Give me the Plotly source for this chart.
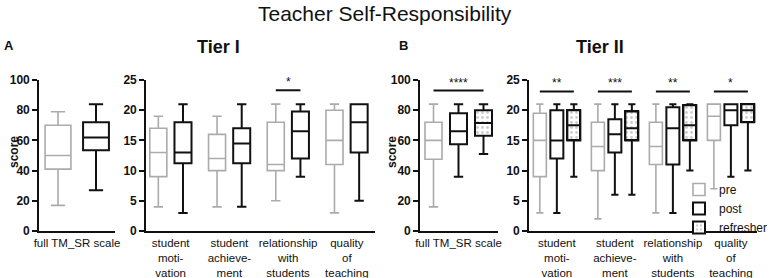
import plotly.graph_objects as go

# ---------------- data ----------------
# Tier I full scale (pre, post)
t1_full_groups = ["pre", "post"]
t1_full_low = [17, 27]
t1_full_q1 = [41, 53.5]
t1_full_med = [50, 62]
t1_full_q3 = [70, 72]
t1_full_high = [79, 84]

# Tier I subscales
subscales = ["student<br>moti-<br>vation", "student<br>achieve-<br>ment",
             "relationship<br>with<br>students", "quality<br>of<br>teaching"]
t1_pre_low = [4, 4, 5, 3]
t1_pre_q1 = [9, 10, 10, 11]
t1_pre_med = [13, 12, 11, 15]
t1_pre_q3 = [17, 16, 18, 20]
t1_pre_high = [19, 19, 21, 21]
t1_post_low = [3, 4, 9, 5]
t1_post_q1 = [11.2, 11.2, 12, 13]
t1_post_med = [13, 14.5, 16.5, 18]
t1_post_q3 = [18, 17, 19.8, 21]
t1_post_high = [21, 21, 21, 21]
t1_sig = ["", "", "*", ""]
t1_sig_y = 23.3

# Tier II full scale (pre, post, refresher)
t2_full_low = [16, 36, 51]
t2_full_q1 = [47.5, 57.5, 63]
t2_full_med = [60, 66, 71.5]
t2_full_q3 = [72, 78, 80]
t2_full_high = [84, 84, 84]
t2_full_sig = "****"
t2_full_sig_y = 93

# Tier II subscales
t2_pre_low = [3, 2, 3, 7]
t2_pre_q1 = [9, 10, 11, 15]
t2_pre_med = [15, 14, 14, 19]
t2_pre_q3 = [19.5, 18, 18, 21]
t2_pre_high = [21, 21, 21, 21]
t2_post_low = [3, 6, 3, 9]
t2_post_q1 = [12, 13, 11, 17.5]
t2_post_med = [15, 16, 17, 20]
t2_post_q3 = [20, 18.5, 20.5, 21]
t2_post_high = [21, 21, 21, 21]
t2_ref_low = [9, 6, 10, 10]
t2_ref_q1 = [15, 15, 15, 18]
t2_ref_med = [17.5, 17, 17.5, 20]
t2_ref_q3 = [20, 19.8, 20.8, 21]
t2_ref_high = [21, 21, 21, 21]
t2_sig = ["**", "***", "**", "*"]
t2_sig_y = 23.1

# ---------------- layout helpers ----------------
W, H = 770, 278


def px(X):
    return X / W


def py(Y):
    return 1 - Y / H


GRAY = "#ababab"
BLACK = "#111111"
FONT = "Liberation Sans, Arial, sans-serif"
pattern = dict(shape=".", fgcolor="#9a9a9a", bgcolor="white", size=5, solidity=0.25)

fig = go.Figure()


def add_box(x, low, q1, med, q3, high, color, lw, width, xa, ya, name, show, rank):
    fig.add_trace(go.Box(
        x=x, lowerfence=low, q1=q1, median=med, q3=q3, upperfence=high,
        width=width, line=dict(color=color, width=lw), fillcolor="rgba(0,0,0,0)",
        whiskerwidth=0.55, boxpoints=False, name=name, showlegend=show,
        legendrank=rank, xaxis=xa, yaxis=ya, hoverinfo="skip"))


def add_pattern(x, q1, q3, width, xa, ya, show):
    fig.add_trace(go.Bar(
        x=x, y=[b - a for a, b in zip(q1, q3)], base=q1, width=width,
        marker=dict(color="white", pattern=pattern,
                    line=dict(color=BLACK, width=2 if show else 0)),
        name="refresher", showlegend=show, legendrank=3,
        xaxis=xa, yaxis=ya, hoverinfo="skip"))


n = len(subscales)
# positions derived from category index
p2_pre = [i - 0.21 for i in range(n)]
p2_post = [i + 0.21 for i in range(n)]
p4_pre = [i - 0.293 for i in range(n)]
p4_post = [i for i in range(n)]
p4_ref = [i + 0.293 for i in range(n)]

# refresher pattern fills (drawn first, beneath boxes)
add_pattern([2], [t2_full_q1[2]], [t2_full_q3[2]], 0.68, "x3", "y3", False)
add_pattern(p4_ref, t2_ref_q1, t2_ref_q3, 0.224, "x4", "y4", True)

# subplot 1
add_box([0], [t1_full_low[0]], [t1_full_q1[0]], [t1_full_med[0]], [t1_full_q3[0]], [t1_full_high[0]],
        GRAY, 1.6, 0.68, "x", "y", "pre", False, 1)
add_box([1], [t1_full_low[1]], [t1_full_q1[1]], [t1_full_med[1]], [t1_full_q3[1]], [t1_full_high[1]],
        BLACK, 2, 0.68, "x", "y", "post", False, 2)
# subplot 2
add_box(p2_pre, t1_pre_low, t1_pre_q1, t1_pre_med, t1_pre_q3, t1_pre_high, GRAY, 1.6, 0.29, "x2", "y2", "pre", False, 1)
add_box(p2_post, t1_post_low, t1_post_q1, t1_post_med, t1_post_q3, t1_post_high, BLACK, 2, 0.29, "x2", "y2", "post", False, 2)
# subplot 3
cols3 = [GRAY, BLACK, BLACK]
lws3 = [1.6, 2, 2]
for k in range(3):
    add_box([k], [t2_full_low[k]], [t2_full_q1[k]], [t2_full_med[k]], [t2_full_q3[k]], [t2_full_high[k]],
            cols3[k], lws3[k], 0.68, "x3", "y3", "g", False, 5)
# subplot 4
add_box(p4_pre, t2_pre_low, t2_pre_q1, t2_pre_med, t2_pre_q3, t2_pre_high, GRAY, 1.6, 0.224, "x4", "y4", "pre", True, 1)
add_box(p4_post, t2_post_low, t2_post_q1, t2_post_med, t2_post_q3, t2_post_high, BLACK, 2, 0.224, "x4", "y4", "post", True, 2)
add_box(p4_ref, t2_ref_low, t2_ref_q1, t2_ref_med, t2_ref_q3, t2_ref_high, BLACK, 2, 0.224, "x4", "y4", "refresher", False, 4)

# significance bars
shapes = []
annotations = []
for i, s in enumerate(t1_sig):
    if s:
        shapes.append(dict(type="line", xref="x2", yref="y2", x0=p2_pre[i], x1=p2_post[i],
                           y0=t1_sig_y, y1=t1_sig_y, line=dict(color=BLACK, width=2)))
        annotations.append(dict(xref="x2", yref="y2", x=(p2_pre[i] + p2_post[i]) / 2, y=t1_sig_y,
                                text=s, showarrow=False, yshift=8, xanchor="center", yanchor="middle",
                                font=dict(size=12, color=BLACK)))
for i, s in enumerate(t2_sig):
    shapes.append(dict(type="line", xref="x4", yref="y4", x0=p4_pre[i], x1=p4_ref[i],
                       y0=t2_sig_y, y1=t2_sig_y, line=dict(color=BLACK, width=2)))
    annotations.append(dict(xref="x4", yref="y4", x=p4_post[i], y=t2_sig_y,
                            text=s, showarrow=False, yshift=8, xanchor="center", yanchor="middle",
                            font=dict(size=12, color=BLACK)))
shapes.append(dict(type="line", xref="x3", yref="y3", x0=0, x1=2, y0=t2_full_sig_y, y1=t2_full_sig_y,
                   line=dict(color=BLACK, width=2)))
annotations.append(dict(xref="x3", yref="y3", x=1, y=t2_full_sig_y, text=t2_full_sig,
                        showarrow=False, yshift=8, xanchor="center", yanchor="middle",
                        font=dict(size=12, color=BLACK)))


def label(text, X, Y, size, angle=0):
    return dict(text=text, x=px(X), y=py(Y), xref="paper", yref="paper",
                xanchor="center", yanchor="middle", showarrow=False, textangle=angle,
                font=dict(size=size, color=BLACK))


annotations += [
    label("Teacher Self-Responsibility", 385, 13, 21),
    label("<b>Tier I</b>", 218, 47, 18),
    label("<b>Tier II</b>", 600, 47, 18),
    label("<b>A</b>", 9, 46, 13),
    label("<b>B</b>", 403, 46, 13),
    label("<b>score</b>", 14, 152, 12, -90),
    label("<b>score</b>", 392, 152, 12, -90),
]

ydom = [py(231), py(80)]
yax = dict(domain=ydom, showline=True, linecolor=BLACK, linewidth=1.6, ticks="outside", ticklen=5,
           tickwidth=1.6, tickcolor=BLACK, showgrid=False, zeroline=False, automargin=False,
           tickfont=dict(size=12, color=BLACK, weight="bold"))
xax = dict(showline=True, linecolor=BLACK, linewidth=1.6, ticks="", showgrid=False, zeroline=False,
           automargin=False, tickangle=0, tickfont=dict(size=11.5, color=BLACK))

fig.update_layout(
    width=W, height=H, margin=dict(l=0, r=0, t=0, b=0, autoexpand=False),
    paper_bgcolor="white", plot_bgcolor="white",
    font=dict(family=FONT, color=BLACK),
    boxmode="overlay", barmode="overlay", bargap=0,
    xaxis=dict(xax, domain=[px(39), px(115)], range=[-0.5, 1.5], tickvals=[0.5], ticktext=["full TM_SR scale"], anchor="y"),
    xaxis2=dict(xax, domain=[px(146), px(375)], range=[-0.42, 3.48], tickvals=list(range(n)), ticktext=subscales, anchor="y2"),
    xaxis3=dict(xax, domain=[px(420), px(498)], range=[-0.54, 2.58], tickvals=[1], ticktext=["full TM_SR scale"], anchor="y3"),
    xaxis4=dict(xax, domain=[px(529), px(757)], range=[-0.48, 3.45], tickvals=list(range(n)), ticktext=subscales, anchor="y4"),
    yaxis=dict(yax, range=[0, 100], dtick=20, anchor="x"),
    yaxis2=dict(yax, range=[0, 25], dtick=5, anchor="x2"),
    yaxis3=dict(yax, range=[0, 100], dtick=20, anchor="x3"),
    yaxis4=dict(yax, range=[0, 25], dtick=5, anchor="x4"),
    showlegend=True,
    legend=dict(x=px(679), y=py(175), xanchor="left", yanchor="top", bgcolor="rgba(0,0,0,0)",
                font=dict(size=12, color=BLACK), tracegroupgap=0, itemwidth=30),
    shapes=shapes, annotations=annotations,
)

# remove the default page margin so the figure fills the window exactly
fig.write_html("out.html", config={"displayModeBar": False},
               post_script="document.body.style.margin='0';")
